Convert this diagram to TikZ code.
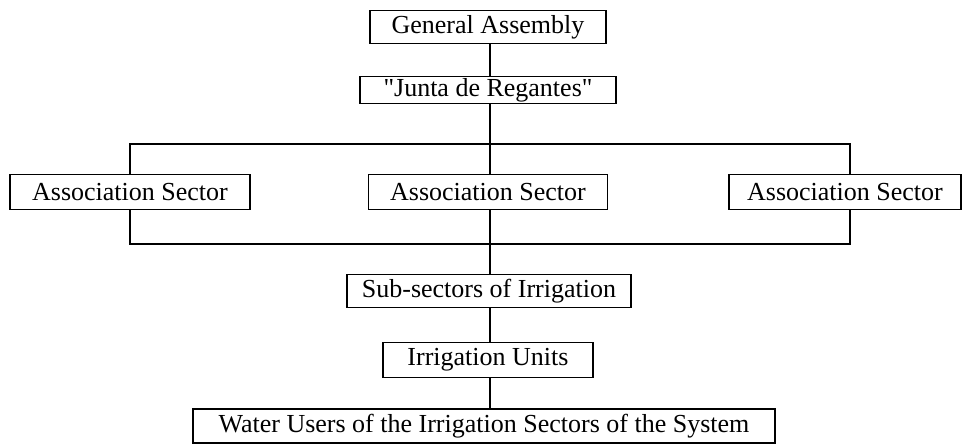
\documentclass[tikz,border=0pt]{standalone}
\usepackage{fontspec}
\setmainfont{Liberation Serif}[Ligatures=TeXOff]

\begin{document}
\begin{tikzpicture}[x=0.5pt, y=-0.5pt,
    orgbox/.style={rectangle, draw, line width=0.8pt, inner sep=0pt,
        font=\fontsize{13}{15}\selectfont},
    link/.style={line width=1pt}]
    \useasboundingbox (0,0) rectangle (962,445);
    % top of the chart
    \node (ga) [orgbox, minimum width=118pt, minimum height=16.5pt] at (488,27) {General Assembly};
    \node (junta) [orgbox, minimum width=128pt, minimum height=13.5pt] at (488,90) {"Junta de Regantes"};
    % the three sectors
    \node (as1) [orgbox, minimum width=120pt, minimum height=17.5pt] at (130,192) {Association Sector};
    \node (as2) [orgbox, minimum width=119.5pt, minimum height=17.5pt] at (488,192) {Association Sector};
    \node (as3) [orgbox, minimum width=116pt, minimum height=17.5pt] at (845,192) {Association Sector};
    % lower levels
    \node (sub) [orgbox, minimum width=142pt, minimum height=16.5pt] at (489,291) {Sub-sectors of Irrigation};
    \node (units) [orgbox, minimum width=105pt, minimum height=17.5pt] at (488,360) {Irrigation Units};
    \node (water) [orgbox, minimum width=291pt, minimum height=17pt] at (484,426) {Water Users of the Irrigation Sectors of the System};
    \coordinate (topbar) at (490,144);
    \coordinate (botbar) at (490,244);
    \draw [link] (ga.south -| topbar) -- (junta.north -| topbar);
    \draw [link] (junta.south -| topbar) -- (as2.north -| topbar);
    \draw [link] (as2.south -| topbar) -- (sub.north -| topbar);
    \draw [link] (sub.south -| topbar) -- (units.north -| topbar);
    \draw [link] (units.south -| topbar) -- (water.north -| topbar);
    \draw [link] (as1.north) |- (topbar) -| ([xshift=2.5pt]as3.north);
    \draw [link] (as1.south) |- (botbar) -| ([xshift=2.5pt]as3.south);
\end{tikzpicture}
\end{document}
